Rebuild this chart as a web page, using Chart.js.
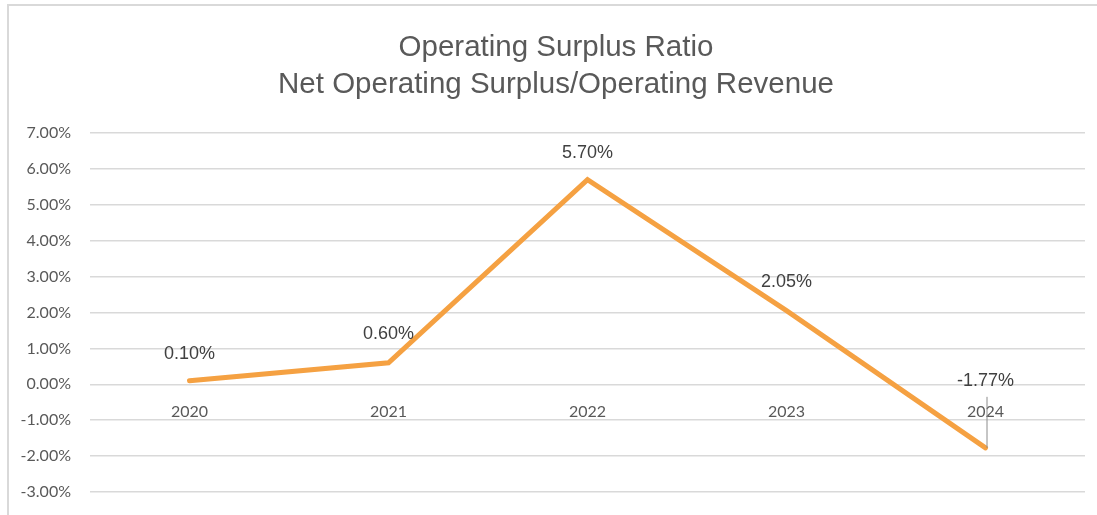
<!DOCTYPE html>
<html>
<head>
<meta charset="utf-8">
<script src="https://cdn.jsdelivr.net/npm/chart.js@4/dist/chart.umd.min.js"></script>
<style>
  html, body { margin: 0; padding: 0; background: #ffffff; }
  #wrap { width: 1097px; height: 515px; position: relative; }
</style>
</head>
<body>
<div id="wrap"><canvas id="c" width="1097" height="515"></canvas></div>
<script>
const categories = ['2020', '2021', '2022', '2023', '2024'];
const ratioValues = [0.10, 0.60, 5.70, 2.05, -1.77];
const yTickValues = [7, 6, 5, 4, 3, 2, 1, 0, -1, -2, -3];
const titleLines = ['Operating Surplus Ratio', 'Net Operating Surplus/Operating Revenue'];

const framePlugin = {
  id: 'frame',
  beforeDraw(chart) {
    const ctx = chart.ctx;
    ctx.save();
    ctx.fillStyle = '#ffffff';
    ctx.fillRect(0, 0, chart.width, chart.height);
    ctx.strokeStyle = '#d9d9d9';
    ctx.lineWidth = 2;
    ctx.beginPath();
    ctx.moveTo(8, chart.height);
    ctx.lineTo(8, 5);
    ctx.lineTo(chart.width, 5);
    ctx.stroke();
    // title
    ctx.fillStyle = '#595959';
    ctx.font = '29.5px "Liberation Sans", Arial, sans-serif';
    ctx.textAlign = 'center';
    ctx.textBaseline = 'alphabetic';
    ctx.fillText(titleLines[0], 556, 56);
    ctx.fillText(titleLines[1], 556, 93);
    ctx.restore();
  }
};

const labelPlugin = {
  id: 'valueLabels',
  afterDatasetsDraw(chart, args, opts) {
    const ctx = chart.ctx;
    const meta = chart.getDatasetMeta(0);
    const data = chart.data.datasets[0].data;
    ctx.save();
    ctx.font = '18px "Liberation Sans", Arial, sans-serif';
    ctx.fillStyle = '#404040';
    ctx.textAlign = 'center';
    ctx.textBaseline = 'middle';
    meta.data.forEach((pt, i) => {
      const off = opts.offsets[i];
      const ly = pt.y - off;
      ctx.fillText(data[i].toFixed(2) + '%', pt.x, ly);
      if (off > 40) {
        ctx.strokeStyle = '#8c8c8c';
        ctx.lineWidth = 1;
        ctx.beginPath();
        ctx.moveTo(pt.x + 1.5, ly + 16);
        ctx.lineTo(pt.x + 1.5, pt.y);
        ctx.stroke();
      }
    });
    ctx.restore();
  }
};

new Chart(document.getElementById('c'), {
  type: 'line',
  data: {
    labels: categories,
    datasets: [{
      data: ratioValues,
      borderColor: '#F5A142',
      borderWidth: 5,
      pointRadius: 0,
      tension: 0,
      borderCapStyle: 'round',
      borderJoinStyle: 'miter'
    }]
  },
  options: {
    responsive: false,
    animation: false,
    devicePixelRatio: 1,
    layout: { padding: { left: 10, right: 12, top: 133, bottom: 23 } },
    plugins: {
      legend: { display: false },
      title: { display: false },
      tooltip: { enabled: false },
      valueLabels: { offsets: [27, 29, 27, 29, 67] }
    },
    scales: {
      x: {
        type: 'category',
        offset: true,
        position: { y: 0 },
        afterFit(scale) { scale.height = 0; scale.paddingTop = 0; scale.paddingBottom = 0; },
        grid: { display: false, drawTicks: false },
        border: { display: false },
        ticks: {
          color: '#595959',
          font: { family: 'Lato, "Open Sans", sans-serif', size: 16 },
          padding: 18,
          maxRotation: 0
        }
      },
      y: {
        min: -3,
        max: 7,
        afterFit(scale) { scale.width = 80; scale.paddingTop = 0; scale.paddingBottom = 0; },
        afterBuildTicks(scale) { scale.ticks = yTickValues.map(v => ({ value: v })); },
        grid: { color: '#d9d9d9', lineWidth: 1.5, drawTicks: false },
        border: { display: false },
        ticks: {
          color: '#595959',
          font: { family: 'Lato, "Open Sans", sans-serif', size: 16 },
          padding: 19,
          callback: (v) => Number(v).toFixed(2) + '%'
        }
      }
    }
  },
  plugins: [framePlugin, labelPlugin]
});
</script>
</body>
</html>
